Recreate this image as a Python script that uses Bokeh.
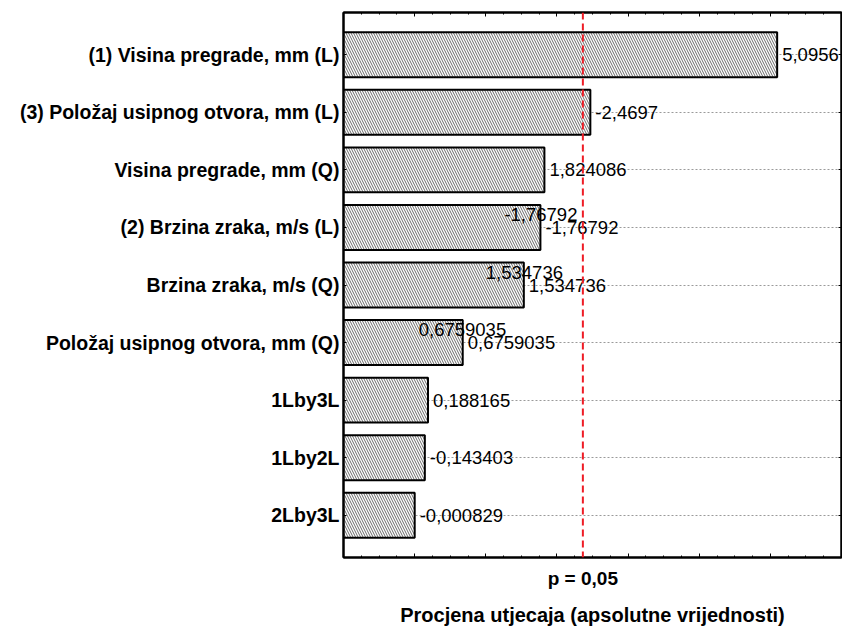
import numpy as np
from bokeh.plotting import figure
from bokeh.models import (Range1d, LinearAxis, FixedTicker, Span,
                          ColumnDataSource)
from bokeh.core.properties import value
from bokeh.embed import file_html
from bokeh.resources import INLINE

# ---------------- data ----------------
effects = [
    "(1) Visina pregrade, mm (L)",
    "(3) Položaj usipnog otvora, mm (L)",
    "Visina pregrade, mm (Q)",
    "(2) Brzina zraka, m/s (L)",
    "Brzina zraka, m/s (Q)",
    "Položaj usipnog otvora, mm (Q)",
    "1Lby3L",
    "1Lby2L",
    "2Lby3L",
]
estimates = [5.0956, -2.4697, 1.824086, -1.76792, 1.534736, 0.6759035,
             0.188165, -0.143403, -0.000829]
estimate_labels = ["5,0956", "-2,4697", "1,824086", "-1,76792", "1,534736",
                   "0,6759035", "0,188165", "-0,143403", "-0,000829"]
# rows where the program printed the value label twice
duplicated_rows = ["(2) Brzina zraka, m/s (L)", "Brzina zraka, m/s (Q)",
                   "Položaj usipnog otvora, mm (Q)"]
critical_value = 2.364624
p_level_label = "p = 0,05"
x_axis_title = "Procjena utjecaja (apsolutne vrijednosti)"
x_min, x_max = -1, 6

# ---------------- style / layout ----------------
FONT = "Liberation Sans"
dup_offsets = {  # pixel shifts of the duplicated labels
    "(2) Brzina zraka, m/s (L)": (-41, -13),
    "Brzina zraka, m/s (Q)": (-43, -13),
    "Položaj usipnog otvora, mm (Q)": (-49, -13),
}
Y_PAD = 0.466  # padding (in rows) of the vertical range

n = len(effects)
row_pos = [n - 1 - i + 0.5 for i in range(n)]   # first effect on top
abs_est = [abs(v) for v in estimates]
src = ColumnDataSource(dict(y=row_pos, right=abs_est,
                            left=[x_min] * n, lab=estimate_labels))

dup_idx = [effects.index(r) for r in duplicated_rows]
dup_src = ColumnDataSource(dict(
    y=[row_pos[i] for i in dup_idx],
    x=[abs_est[i] for i in dup_idx],
    lab=[estimate_labels[i] for i in dup_idx],
    dx=[5 + dup_offsets[effects[i]][0] for i in dup_idx],
    dy=[dup_offsets[effects[i]][1] for i in dup_idx],
))

p = figure(width=842, height=628,
           y_range=Range1d(-Y_PAD / 2, n + Y_PAD / 2),
           x_range=Range1d(x_min, x_max),
           output_backend="svg", toolbar_location=None,
           x_axis_location=None, y_axis_location=None,
           min_border_left=343, min_border_right=1,
           min_border_top=12, min_border_bottom=10)
p.background_fill_color = "white"
p.border_fill_color = "white"
p.outline_line_color = "black"
p.outline_line_width = 2

# left axis with effect names
left_axis = LinearAxis(ticker=FixedTicker(ticks=row_pos, minor_ticks=[]),
                       major_label_overrides=dict(zip(row_pos, effects)),
                       major_label_text_font=FONT,
                       major_label_text_font_style="bold",
                       major_label_text_font_size="19.5px",
                       major_label_text_color="black",
                       axis_line_width=2, major_tick_in=3, major_tick_out=0,
                       major_label_standoff=4)
p.add_layout(left_axis, "left")

# right axis: ticks only
p.add_layout(LinearAxis(ticker=FixedTicker(ticks=row_pos, minor_ticks=[]),
                        major_label_overrides={t: "" for t in row_pos},
                        major_tick_in=3, major_tick_out=0,
                        axis_line_width=2, major_label_standoff=0),
             "right")

p.xgrid.visible = False
p.ygrid.grid_line_color = "#9a9a9a"
p.ygrid.grid_line_dash = "2 2"
p.ygrid.grid_line_width = 1
p.ygrid.ticker = left_axis.ticker

p.hbar(y="y", left="left", right="right", height=0.78, source=src,
       fill_color="white", line_color="black", line_width=2,
       hatch_pattern="\\", hatch_color="#444444", hatch_scale=5,
       hatch_weight=0.8)

p.add_layout(Span(location=critical_value, dimension="height",
                  line_color="#ee1c25", line_dash="7 4", line_width=2))

p.text(x="right", y="y", text="lab", source=src, x_offset=5,
       text_baseline="middle", text_align="left", text_font=value(FONT),
       text_font_size="18.5px", text_color="black")
p.text(x="x", y="y", text="lab", source=dup_src, x_offset="dx",
       y_offset="dy", text_baseline="middle", text_align="left",
       text_font=value(FONT), text_font_size="18.5px", text_color="black")

major = list(range(x_min, x_max + 1))
minor = [float(v) for v in np.arange(x_min, x_max + 0.001, 0.25)]


def tick_axis():
    return LinearAxis(ticker=FixedTicker(ticks=major, minor_ticks=minor),
                      major_label_overrides={t: "" for t in major},
                      major_tick_in=4, major_tick_out=0, minor_tick_in=2,
                      minor_tick_out=0, major_label_text_font_size="10px",
                      major_label_standoff=0, axis_line_width=2)


p.add_layout(tick_axis(), "above")
p.add_layout(tick_axis(), "below")

lab_axis = LinearAxis(ticker=FixedTicker(ticks=[critical_value], minor_ticks=[]),
                      major_label_overrides={critical_value: p_level_label},
                      axis_line_color=None, major_tick_line_color=None,
                      minor_tick_line_color=None,
                      major_label_text_font=FONT,
                      major_label_text_font_style="bold",
                      major_label_text_font_size="19px",
                      major_label_text_color="black",
                      major_label_standoff=4,
                      axis_label=x_axis_title,
                      axis_label_text_font=FONT,
                      axis_label_text_font_style="bold",
                      axis_label_text_font_size="20px",
                      axis_label_text_color="black",
                      axis_label_text_line_height=1.0,
                      axis_label_standoff=12)
p.add_layout(lab_axis, "below")

open("out.html", "w").write(file_html(p, INLINE))
